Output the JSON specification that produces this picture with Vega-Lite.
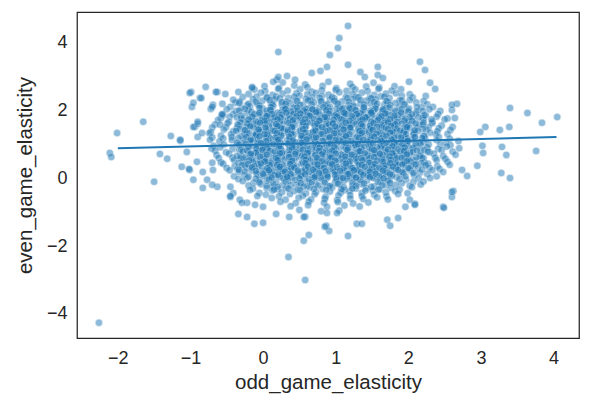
{
  "$schema": "https://vega.github.io/schema/vega-lite/v6.json",
  "autosize": "none",
  "width": 502,
  "height": 326,
  "padding": {"left": 77, "top": 12, "right": 19, "bottom": 68},
  "background": "#ffffff",
  "config": {
    "view": {"stroke": "#262626", "strokeWidth": 1.25},
    "font": "Liberation Sans",
    "axis": {
      "grid": false,
      "domain": false,
      "ticks": false,
      "tickSize": 0,
      "format": "d",
      "labelFont": "Liberation Sans",
      "labelFontSize": 18,
      "labelColor": "#262626",
      "titleFont": "Liberation Sans",
      "titleFontSize": 20.5,
      "titleFontWeight": "normal",
      "titleColor": "#262626"
    }
  },
  "datasets": {
    "fit": [
      {"odd": -2.0, "even": 0.89},
      {"odd": 4.04, "even": 1.22}
    ],
    "points": [
      {"odd":0.27,"even":2.83},{"odd":0.58,"even":2.77},{"odd":0.9,"even":2.85},{"odd":1.2,"even":2.79},{"odd":1.52,"even":2.82},
      {"odd":0.02,"even":2.72},{"odd":0.22,"even":2.67},{"odd":0.43,"even":2.74},{"odd":0.61,"even":2.69},{"odd":0.82,"even":2.73},{"odd":1.01,"even":2.66},{"odd":1.23,"even":2.7},{"odd":1.42,"even":2.71},{"odd":1.6,"even":2.68},{"odd":1.81,"even":2.72},
      {"odd":-0.12,"even":2.62},{"odd":0.03,"even":2.57},{"odd":0.21,"even":2.64},{"odd":0.34,"even":2.59},{"odd":0.51,"even":2.63},{"odd":0.67,"even":2.56},{"odd":0.81,"even":2.6},{"odd":1.0,"even":2.61},{"odd":1.15,"even":2.58},{"odd":1.27,"even":2.62},{"odd":1.44,"even":2.57},{"odd":1.59,"even":2.64},{"odd":1.77,"even":2.59},{"odd":1.9,"even":2.63},
      {"odd":-0.2,"even":2.49},{"odd":-0.03,"even":2.53},{"odd":0.13,"even":2.46},{"odd":0.27,"even":2.5},{"odd":0.46,"even":2.51},{"odd":0.61,"even":2.48},{"odd":0.73,"even":2.52},{"odd":0.9,"even":2.47},{"odd":1.05,"even":2.54},{"odd":1.23,"even":2.49},{"odd":1.36,"even":2.53},{"odd":1.53,"even":2.46},{"odd":1.69,"even":2.5},{"odd":1.83,"even":2.51},{"odd":2.02,"even":2.48},
      {"odd":-0.28,"even":2.4},{"odd":-0.09,"even":2.41},{"odd":0.06,"even":2.38},{"odd":0.18,"even":2.42},{"odd":0.35,"even":2.37},{"odd":0.5,"even":2.44},{"odd":0.68,"even":2.39},{"odd":0.81,"even":2.43},{"odd":0.98,"even":2.36},{"odd":1.14,"even":2.4},{"odd":1.28,"even":2.41},{"odd":1.47,"even":2.38},{"odd":1.62,"even":2.42},{"odd":1.74,"even":2.37},{"odd":1.91,"even":2.44},{"odd":2.06,"even":2.39},{"odd":2.24,"even":2.43},
      {"odd":-0.32,"even":2.27},{"odd":-0.14,"even":2.34},{"odd":-0.01,"even":2.29},{"odd":0.16,"even":2.33},{"odd":0.32,"even":2.26},{"odd":0.46,"even":2.3},{"odd":0.65,"even":2.31},{"odd":0.8,"even":2.28},{"odd":0.92,"even":2.32},{"odd":1.09,"even":2.27},{"odd":1.24,"even":2.34},{"odd":1.42,"even":2.29},{"odd":1.55,"even":2.33},{"odd":1.72,"even":2.26},{"odd":1.88,"even":2.3},{"odd":2.02,"even":2.31},{"odd":2.21,"even":2.28},
      {"odd":-0.38,"even":2.23},{"odd":-0.22,"even":2.16},{"odd":-0.08,"even":2.2},{"odd":0.11,"even":2.21},{"odd":0.26,"even":2.18},{"odd":0.38,"even":2.22},{"odd":0.55,"even":2.17},{"odd":0.7,"even":2.24},{"odd":0.88,"even":2.19},{"odd":1.01,"even":2.23},{"odd":1.18,"even":2.16},{"odd":1.34,"even":2.2},{"odd":1.48,"even":2.21},{"odd":1.67,"even":2.18},{"odd":1.82,"even":2.22},{"odd":1.94,"even":2.17},{"odd":2.11,"even":2.24},{"odd":2.26,"even":2.19},
      {"odd":-0.45,"even":2.11},{"odd":-0.3,"even":2.08},{"odd":-0.18,"even":2.12},{"odd":-0.01,"even":2.07},{"odd":0.14,"even":2.14},{"odd":0.32,"even":2.09},{"odd":0.45,"even":2.13},{"odd":0.62,"even":2.06},{"odd":0.78,"even":2.1},{"odd":0.92,"even":2.11},{"odd":1.11,"even":2.08},{"odd":1.26,"even":2.12},{"odd":1.38,"even":2.07},{"odd":1.55,"even":2.14},{"odd":1.7,"even":2.09},{"odd":1.88,"even":2.13},{"odd":2.01,"even":2.06},{"odd":2.18,"even":2.1},{"odd":2.34,"even":2.11},
      {"odd":-0.5,"even":2.04},{"odd":-0.37,"even":1.99},{"odd":-0.2,"even":2.03},{"odd":-0.04,"even":1.96},{"odd":0.1,"even":2.0},{"odd":0.29,"even":2.01},{"odd":0.44,"even":1.98},{"odd":0.56,"even":2.02},{"odd":0.73,"even":1.97},{"odd":0.88,"even":2.04},{"odd":1.06,"even":1.99},{"odd":1.19,"even":2.03},{"odd":1.36,"even":1.96},{"odd":1.52,"even":2.0},{"odd":1.66,"even":2.01},{"odd":1.85,"even":1.98},{"odd":2.0,"even":2.02},{"odd":2.12,"even":1.97},{"odd":2.29,"even":2.04},{"odd":2.44,"even":1.99},
      {"odd":-0.55,"even":1.86},{"odd":-0.41,"even":1.9},{"odd":-0.22,"even":1.91},{"odd":-0.07,"even":1.88},{"odd":0.05,"even":1.92},{"odd":0.22,"even":1.87},{"odd":0.37,"even":1.94},{"odd":0.55,"even":1.89},{"odd":0.68,"even":1.93},{"odd":0.85,"even":1.86},{"odd":1.01,"even":1.9},{"odd":1.15,"even":1.91},{"odd":1.34,"even":1.88},{"odd":1.49,"even":1.92},{"odd":1.61,"even":1.87},{"odd":1.78,"even":1.94},{"odd":1.93,"even":1.89},{"odd":2.11,"even":1.93},{"odd":2.24,"even":1.86},{"odd":2.41,"even":1.9},
      {"odd":-0.58,"even":1.78},{"odd":-0.46,"even":1.82},{"odd":-0.29,"even":1.77},{"odd":-0.14,"even":1.84},{"odd":0.04,"even":1.79},{"odd":0.17,"even":1.83},{"odd":0.34,"even":1.76},{"odd":0.5,"even":1.8},{"odd":0.64,"even":1.81},{"odd":0.83,"even":1.78},{"odd":0.98,"even":1.82},{"odd":1.1,"even":1.77},{"odd":1.27,"even":1.84},{"odd":1.42,"even":1.79},{"odd":1.6,"even":1.83},{"odd":1.73,"even":1.76},{"odd":1.9,"even":1.8},{"odd":2.06,"even":1.81},{"odd":2.2,"even":1.78},{"odd":2.39,"even":1.82},{"odd":2.54,"even":1.77},
      {"odd":-0.62,"even":1.72},{"odd":-0.47,"even":1.67},{"odd":-0.29,"even":1.74},{"odd":-0.16,"even":1.69},{"odd":0.01,"even":1.73},{"odd":0.17,"even":1.66},{"odd":0.31,"even":1.7},{"odd":0.5,"even":1.71},{"odd":0.65,"even":1.68},{"odd":0.77,"even":1.72},{"odd":0.94,"even":1.67},{"odd":1.09,"even":1.74},{"odd":1.27,"even":1.69},{"odd":1.4,"even":1.73},{"odd":1.57,"even":1.66},{"odd":1.73,"even":1.7},{"odd":1.87,"even":1.71},{"odd":2.06,"even":1.68},{"odd":2.21,"even":1.72},{"odd":2.33,"even":1.67},{"odd":2.5,"even":1.74},
      {"odd":-0.66,"even":1.59},{"odd":-0.49,"even":1.63},{"odd":-0.33,"even":1.56},{"odd":-0.19,"even":1.6},{"odd":0.0,"even":1.61},{"odd":0.15,"even":1.58},{"odd":0.27,"even":1.62},{"odd":0.44,"even":1.57},{"odd":0.59,"even":1.64},{"odd":0.77,"even":1.59},{"odd":0.9,"even":1.63},{"odd":1.07,"even":1.56},{"odd":1.23,"even":1.6},{"odd":1.37,"even":1.61},{"odd":1.56,"even":1.58},{"odd":1.71,"even":1.62},{"odd":1.83,"even":1.57},{"odd":2.0,"even":1.64},{"odd":2.15,"even":1.59},{"odd":2.33,"even":1.63},{"odd":2.46,"even":1.56},
      {"odd":-0.7,"even":1.5},{"odd":-0.51,"even":1.51},{"odd":-0.36,"even":1.48},{"odd":-0.24,"even":1.52},{"odd":-0.07,"even":1.47},{"odd":0.08,"even":1.54},{"odd":0.26,"even":1.49},{"odd":0.39,"even":1.53},{"odd":0.56,"even":1.46},{"odd":0.72,"even":1.5},{"odd":0.86,"even":1.51},{"odd":1.05,"even":1.48},{"odd":1.2,"even":1.52},{"odd":1.32,"even":1.47},{"odd":1.49,"even":1.54},{"odd":1.64,"even":1.49},{"odd":1.82,"even":1.53},{"odd":1.95,"even":1.46},{"odd":2.12,"even":1.5},{"odd":2.28,"even":1.51},{"odd":2.42,"even":1.48},{"odd":2.61,"even":1.52},
      {"odd":-0.72,"even":1.37},{"odd":-0.54,"even":1.44},{"odd":-0.41,"even":1.39},{"odd":-0.24,"even":1.43},{"odd":-0.08,"even":1.36},{"odd":0.06,"even":1.4},{"odd":0.25,"even":1.41},{"odd":0.4,"even":1.38},{"odd":0.52,"even":1.42},{"odd":0.69,"even":1.37},{"odd":0.84,"even":1.44},{"odd":1.02,"even":1.39},{"odd":1.15,"even":1.43},{"odd":1.32,"even":1.36},{"odd":1.48,"even":1.4},{"odd":1.62,"even":1.41},{"odd":1.81,"even":1.38},{"odd":1.96,"even":1.42},{"odd":2.08,"even":1.37},{"odd":2.25,"even":1.44},{"odd":2.4,"even":1.39},{"odd":2.58,"even":1.43},
      {"odd":-0.74,"even":1.33},{"odd":-0.58,"even":1.26},{"odd":-0.44,"even":1.3},{"odd":-0.25,"even":1.31},{"odd":-0.1,"even":1.28},{"odd":0.02,"even":1.32},{"odd":0.19,"even":1.27},{"odd":0.34,"even":1.34},{"odd":0.52,"even":1.29},{"odd":0.65,"even":1.33},{"odd":0.82,"even":1.26},{"odd":0.98,"even":1.3},{"odd":1.12,"even":1.31},{"odd":1.31,"even":1.28},{"odd":1.46,"even":1.32},{"odd":1.58,"even":1.27},{"odd":1.75,"even":1.34},{"odd":1.9,"even":1.29},{"odd":2.08,"even":1.33},{"odd":2.21,"even":1.26},{"odd":2.38,"even":1.3},{"odd":2.54,"even":1.31},
      {"odd":-0.7,"even":1.21},{"odd":-0.55,"even":1.18},{"odd":-0.43,"even":1.22},{"odd":-0.26,"even":1.17},{"odd":-0.11,"even":1.24},{"odd":0.07,"even":1.19},{"odd":0.2,"even":1.23},{"odd":0.37,"even":1.16},{"odd":0.53,"even":1.2},{"odd":0.67,"even":1.21},{"odd":0.86,"even":1.18},{"odd":1.01,"even":1.22},{"odd":1.13,"even":1.17},{"odd":1.3,"even":1.24},{"odd":1.45,"even":1.19},{"odd":1.63,"even":1.23},{"odd":1.76,"even":1.16},{"odd":1.93,"even":1.2},{"odd":2.09,"even":1.21},{"odd":2.23,"even":1.18},{"odd":2.42,"even":1.22},{"odd":2.57,"even":1.17},
      {"odd":-0.73,"even":1.14},{"odd":-0.6,"even":1.09},{"odd":-0.43,"even":1.13},{"odd":-0.27,"even":1.06},{"odd":-0.13,"even":1.1},{"odd":0.06,"even":1.11},{"odd":0.21,"even":1.08},{"odd":0.33,"even":1.12},{"odd":0.5,"even":1.07},{"odd":0.65,"even":1.14},{"odd":0.83,"even":1.09},{"odd":0.96,"even":1.13},{"odd":1.13,"even":1.06},{"odd":1.29,"even":1.1},{"odd":1.43,"even":1.11},{"odd":1.62,"even":1.08},{"odd":1.77,"even":1.12},{"odd":1.89,"even":1.07},{"odd":2.06,"even":1.14},{"odd":2.21,"even":1.09},{"odd":2.39,"even":1.13},{"odd":2.52,"even":1.06},{"odd":2.69,"even":1.1},
      {"odd":-0.68,"even":0.96},{"odd":-0.54,"even":1.0},{"odd":-0.35,"even":1.01},{"odd":-0.2,"even":0.98},{"odd":-0.08,"even":1.02},{"odd":0.09,"even":0.97},{"odd":0.24,"even":1.04},{"odd":0.42,"even":0.99},{"odd":0.55,"even":1.03},{"odd":0.72,"even":0.96},{"odd":0.88,"even":1.0},{"odd":1.02,"even":1.01},{"odd":1.21,"even":0.98},{"odd":1.36,"even":1.02},{"odd":1.48,"even":0.97},{"odd":1.65,"even":1.04},{"odd":1.8,"even":0.99},{"odd":1.98,"even":1.03},{"odd":2.11,"even":0.96},{"odd":2.28,"even":1.0},{"odd":2.44,"even":1.01},{"odd":2.58,"even":0.98},
      {"odd":-0.71,"even":0.88},{"odd":-0.59,"even":0.92},{"odd":-0.42,"even":0.87},{"odd":-0.27,"even":0.94},{"odd":-0.09,"even":0.89},{"odd":0.04,"even":0.93},{"odd":0.21,"even":0.86},{"odd":0.37,"even":0.9},{"odd":0.51,"even":0.91},{"odd":0.7,"even":0.88},{"odd":0.85,"even":0.92},{"odd":0.97,"even":0.87},{"odd":1.14,"even":0.94},{"odd":1.29,"even":0.89},{"odd":1.47,"even":0.93},{"odd":1.6,"even":0.86},{"odd":1.77,"even":0.9},{"odd":1.93,"even":0.91},{"odd":2.07,"even":0.88},{"odd":2.26,"even":0.92},{"odd":2.41,"even":0.87},{"odd":2.53,"even":0.94},{"odd":2.7,"even":0.89},
      {"odd":-0.66,"even":0.82},{"odd":-0.51,"even":0.77},{"odd":-0.33,"even":0.84},{"odd":-0.2,"even":0.79},{"odd":-0.03,"even":0.83},{"odd":0.13,"even":0.76},{"odd":0.27,"even":0.8},{"odd":0.46,"even":0.81},{"odd":0.61,"even":0.78},{"odd":0.73,"even":0.82},{"odd":0.9,"even":0.77},{"odd":1.05,"even":0.84},{"odd":1.23,"even":0.79},{"odd":1.36,"even":0.83},{"odd":1.53,"even":0.76},{"odd":1.69,"even":0.8},{"odd":1.83,"even":0.81},{"odd":2.02,"even":0.78},{"odd":2.17,"even":0.82},{"odd":2.29,"even":0.77},{"odd":2.46,"even":0.84},{"odd":2.61,"even":0.79},
      {"odd":-0.64,"even":0.69},{"odd":-0.47,"even":0.73},{"odd":-0.31,"even":0.66},{"odd":-0.17,"even":0.7},{"odd":0.02,"even":0.71},{"odd":0.17,"even":0.68},{"odd":0.29,"even":0.72},{"odd":0.46,"even":0.67},{"odd":0.61,"even":0.74},{"odd":0.79,"even":0.69},{"odd":0.92,"even":0.73},{"odd":1.09,"even":0.66},{"odd":1.25,"even":0.7},{"odd":1.39,"even":0.71},{"odd":1.58,"even":0.68},{"odd":1.73,"even":0.72},{"odd":1.85,"even":0.67},{"odd":2.02,"even":0.74},{"odd":2.17,"even":0.69},{"odd":2.35,"even":0.73},{"odd":2.48,"even":0.66},{"odd":2.65,"even":0.7},
      {"odd":-0.61,"even":0.6},{"odd":-0.42,"even":0.61},{"odd":-0.27,"even":0.58},{"odd":-0.15,"even":0.62},{"odd":0.02,"even":0.57},{"odd":0.17,"even":0.64},{"odd":0.35,"even":0.59},{"odd":0.48,"even":0.63},{"odd":0.65,"even":0.56},{"odd":0.81,"even":0.6},{"odd":0.95,"even":0.61},{"odd":1.14,"even":0.58},{"odd":1.29,"even":0.62},{"odd":1.41,"even":0.57},{"odd":1.58,"even":0.64},{"odd":1.73,"even":0.59},{"odd":1.91,"even":0.63},{"odd":2.04,"even":0.56},{"odd":2.21,"even":0.6},{"odd":2.37,"even":0.61},{"odd":2.51,"even":0.58},
      {"odd":-0.58,"even":0.47},{"odd":-0.4,"even":0.54},{"odd":-0.27,"even":0.49},{"odd":-0.1,"even":0.53},{"odd":0.06,"even":0.46},{"odd":0.2,"even":0.5},{"odd":0.39,"even":0.51},{"odd":0.54,"even":0.48},{"odd":0.66,"even":0.52},{"odd":0.83,"even":0.47},{"odd":0.98,"even":0.54},{"odd":1.16,"even":0.49},{"odd":1.29,"even":0.53},{"odd":1.46,"even":0.46},{"odd":1.62,"even":0.5},{"odd":1.76,"even":0.51},{"odd":1.95,"even":0.48},{"odd":2.1,"even":0.52},{"odd":2.22,"even":0.47},{"odd":2.39,"even":0.54},{"odd":2.54,"even":0.49},
      {"odd":-0.55,"even":0.43},{"odd":-0.39,"even":0.36},{"odd":-0.25,"even":0.4},{"odd":-0.06,"even":0.41},{"odd":0.09,"even":0.38},{"odd":0.21,"even":0.42},{"odd":0.38,"even":0.37},{"odd":0.53,"even":0.44},{"odd":0.71,"even":0.39},{"odd":0.84,"even":0.43},{"odd":1.01,"even":0.36},{"odd":1.17,"even":0.4},{"odd":1.31,"even":0.41},{"odd":1.5,"even":0.38},{"odd":1.65,"even":0.42},{"odd":1.77,"even":0.37},{"odd":1.94,"even":0.44},{"odd":2.09,"even":0.39},{"odd":2.27,"even":0.43},{"odd":2.4,"even":0.36},{"odd":2.57,"even":0.4},
      {"odd":-0.5,"even":0.31},{"odd":-0.35,"even":0.28},{"odd":-0.23,"even":0.32},{"odd":-0.06,"even":0.27},{"odd":0.09,"even":0.34},{"odd":0.27,"even":0.29},{"odd":0.4,"even":0.33},{"odd":0.57,"even":0.26},{"odd":0.73,"even":0.3},{"odd":0.87,"even":0.31},{"odd":1.06,"even":0.28},{"odd":1.21,"even":0.32},{"odd":1.33,"even":0.27},{"odd":1.5,"even":0.34},{"odd":1.65,"even":0.29},{"odd":1.83,"even":0.33},{"odd":1.96,"even":0.26},{"odd":2.13,"even":0.3},{"odd":2.29,"even":0.31},{"odd":2.43,"even":0.28},
      {"odd":-0.46,"even":0.24},{"odd":-0.33,"even":0.19},{"odd":-0.16,"even":0.23},{"odd":0.0,"even":0.16},{"odd":0.14,"even":0.2},{"odd":0.33,"even":0.21},{"odd":0.48,"even":0.18},{"odd":0.6,"even":0.22},{"odd":0.77,"even":0.17},{"odd":0.92,"even":0.24},{"odd":1.1,"even":0.19},{"odd":1.23,"even":0.23},{"odd":1.4,"even":0.16},{"odd":1.56,"even":0.2},{"odd":1.7,"even":0.21},{"odd":1.89,"even":0.18},{"odd":2.04,"even":0.22},{"odd":2.16,"even":0.17},{"odd":2.33,"even":0.24},{"odd":2.48,"even":0.19},
      {"odd":-0.4,"even":0.06},{"odd":-0.26,"even":0.1},{"odd":-0.07,"even":0.11},{"odd":0.08,"even":0.08},{"odd":0.2,"even":0.12},{"odd":0.37,"even":0.07},{"odd":0.52,"even":0.14},{"odd":0.7,"even":0.09},{"odd":0.83,"even":0.13},{"odd":1.0,"even":0.06},{"odd":1.16,"even":0.1},{"odd":1.3,"even":0.11},{"odd":1.49,"even":0.08},{"odd":1.64,"even":0.12},{"odd":1.76,"even":0.07},{"odd":1.93,"even":0.14},{"odd":2.08,"even":0.09},{"odd":2.26,"even":0.13},{"odd":2.39,"even":0.06},
      {"odd":-0.34,"even":-0.02},{"odd":-0.22,"even":0.02},{"odd":-0.05,"even":-0.03},{"odd":0.1,"even":0.04},{"odd":0.28,"even":-0.01},{"odd":0.41,"even":0.03},{"odd":0.58,"even":-0.04},{"odd":0.74,"even":0.0},{"odd":0.88,"even":0.01},{"odd":1.07,"even":-0.02},{"odd":1.22,"even":0.02},{"odd":1.34,"even":-0.03},{"odd":1.51,"even":0.04},{"odd":1.66,"even":-0.01},{"odd":1.84,"even":0.03},{"odd":1.97,"even":-0.04},{"odd":2.14,"even":0.0},{"odd":2.3,"even":0.01},
      {"odd":-0.28,"even":-0.08},{"odd":-0.13,"even":-0.13},{"odd":0.05,"even":-0.06},{"odd":0.18,"even":-0.11},{"odd":0.35,"even":-0.07},{"odd":0.51,"even":-0.14},{"odd":0.65,"even":-0.1},{"odd":0.84,"even":-0.09},{"odd":0.99,"even":-0.12},{"odd":1.11,"even":-0.08},{"odd":1.28,"even":-0.13},{"odd":1.43,"even":-0.06},{"odd":1.61,"even":-0.11},{"odd":1.74,"even":-0.07},{"odd":1.91,"even":-0.14},{"odd":2.07,"even":-0.1},{"odd":2.21,"even":-0.09},
      {"odd":-0.2,"even":-0.21},{"odd":-0.03,"even":-0.17},{"odd":0.13,"even":-0.24},{"odd":0.27,"even":-0.2},{"odd":0.46,"even":-0.19},{"odd":0.61,"even":-0.22},{"odd":0.73,"even":-0.18},{"odd":0.9,"even":-0.23},{"odd":1.05,"even":-0.16},{"odd":1.23,"even":-0.21},{"odd":1.36,"even":-0.17},{"odd":1.53,"even":-0.24},{"odd":1.69,"even":-0.2},{"odd":1.83,"even":-0.19},{"odd":2.02,"even":-0.22},{"odd":2.17,"even":-0.18},
      {"odd":-0.14,"even":-0.3},{"odd":0.05,"even":-0.29},{"odd":0.2,"even":-0.32},{"odd":0.32,"even":-0.28},{"odd":0.49,"even":-0.33},{"odd":0.64,"even":-0.26},{"odd":0.82,"even":-0.31},{"odd":0.95,"even":-0.27},{"odd":1.12,"even":-0.34},{"odd":1.28,"even":-0.3},{"odd":1.42,"even":-0.29},{"odd":1.61,"even":-0.32},{"odd":1.76,"even":-0.28},{"odd":1.88,"even":-0.33},{"odd":2.05,"even":-0.26},
      {"odd":-0.05,"even":-0.43},{"odd":0.13,"even":-0.36},{"odd":0.26,"even":-0.41},{"odd":0.43,"even":-0.37},{"odd":0.59,"even":-0.44},{"odd":0.73,"even":-0.4},{"odd":0.92,"even":-0.39},{"odd":1.07,"even":-0.42},{"odd":1.19,"even":-0.38},{"odd":1.36,"even":-0.43},{"odd":1.51,"even":-0.36},{"odd":1.69,"even":-0.41},{"odd":1.82,"even":-0.37},{"odd":1.99,"even":-0.44},
      {"odd":0.04,"even":-0.48},{"odd":0.22,"even":-0.53},{"odd":0.37,"even":-0.46},{"odd":0.55,"even":-0.51},{"odd":0.71,"even":-0.47},{"odd":0.86,"even":-0.54},{"odd":1.04,"even":-0.5},{"odd":1.2,"even":-0.49},{"odd":1.36,"even":-0.52},{"odd":1.53,"even":-0.48},{"odd":1.7,"even":-0.53},{"odd":1.86,"even":-0.46},
      {"odd":0.12,"even":-0.58},{"odd":0.31,"even":-0.63},{"odd":0.49,"even":-0.57},{"odd":0.66,"even":-0.62},{"odd":0.85,"even":-0.6},{"odd":1.02,"even":-0.64},{"odd":1.2,"even":-0.59},{"odd":1.38,"even":-0.61},{"odd":1.57,"even":-0.56},{"odd":1.72,"even":-0.62},
      {"odd":0.24,"even":-0.69},{"odd":0.45,"even":-0.73},{"odd":0.63,"even":-0.68},{"odd":0.84,"even":-0.72},{"odd":1.03,"even":-0.7},{"odd":1.24,"even":-0.74},{"odd":1.45,"even":-0.71},
      {"odd":0.38,"even":-0.82},{"odd":0.62,"even":-0.79},{"odd":0.88,"even":-0.84},{"odd":1.12,"even":-0.8},{"odd":1.33,"even":-0.83},
      {"odd":0.5,"even":-0.93},{"odd":0.8,"even":-0.97},{"odd":1.05,"even":-0.95},
      {"odd":0.27,"even":2.03},{"odd":0.42,"even":2.08},{"odd":0.6,"even":2.05},{"odd":0.73,"even":2.01},{"odd":0.9,"even":2.07},{"odd":1.06,"even":2.09},{"odd":1.2,"even":2.04},{"odd":1.39,"even":2.02},{"odd":1.54,"even":2.06},
      {"odd":0.12,"even":1.98},{"odd":0.26,"even":1.95},{"odd":0.45,"even":1.91},{"odd":0.6,"even":1.97},{"odd":0.72,"even":1.99},{"odd":0.89,"even":1.94},{"odd":1.04,"even":1.92},{"odd":1.22,"even":1.96},{"odd":1.35,"even":1.93},{"odd":1.52,"even":1.98},{"odd":1.68,"even":1.95},
      {"odd":0.06,"even":1.85},{"odd":0.19,"even":1.81},{"odd":0.36,"even":1.87},{"odd":0.52,"even":1.89},{"odd":0.66,"even":1.84},{"odd":0.85,"even":1.82},{"odd":1.0,"even":1.86},{"odd":1.12,"even":1.83},{"odd":1.29,"even":1.88},{"odd":1.44,"even":1.85},{"odd":1.62,"even":1.81},{"odd":1.75,"even":1.87},
      {"odd":-0.02,"even":1.71},{"odd":0.13,"even":1.77},{"odd":0.25,"even":1.79},{"odd":0.42,"even":1.74},{"odd":0.57,"even":1.72},{"odd":0.75,"even":1.76},{"odd":0.88,"even":1.73},{"odd":1.05,"even":1.78},{"odd":1.21,"even":1.75},{"odd":1.35,"even":1.71},{"odd":1.54,"even":1.77},{"odd":1.69,"even":1.79},{"odd":1.81,"even":1.74},
      {"odd":-0.07,"even":1.67},{"odd":0.09,"even":1.69},{"odd":0.23,"even":1.64},{"odd":0.42,"even":1.62},{"odd":0.57,"even":1.66},{"odd":0.69,"even":1.63},{"odd":0.86,"even":1.68},{"odd":1.01,"even":1.65},{"odd":1.19,"even":1.61},{"odd":1.32,"even":1.67},{"odd":1.49,"even":1.69},{"odd":1.65,"even":1.64},{"odd":1.79,"even":1.62},{"odd":1.98,"even":1.66},
      {"odd":-0.09,"even":1.59},{"odd":0.08,"even":1.54},{"odd":0.23,"even":1.52},{"odd":0.41,"even":1.56},{"odd":0.54,"even":1.53},{"odd":0.71,"even":1.58},{"odd":0.87,"even":1.55},{"odd":1.01,"even":1.51},{"odd":1.2,"even":1.57},{"odd":1.35,"even":1.59},{"odd":1.47,"even":1.54},{"odd":1.64,"even":1.52},{"odd":1.79,"even":1.56},{"odd":1.97,"even":1.53},
      {"odd":-0.06,"even":1.44},{"odd":0.13,"even":1.42},{"odd":0.28,"even":1.46},{"odd":0.4,"even":1.43},{"odd":0.57,"even":1.48},{"odd":0.72,"even":1.45},{"odd":0.9,"even":1.41},{"odd":1.03,"even":1.47},{"odd":1.2,"even":1.49},{"odd":1.36,"even":1.44},{"odd":1.5,"even":1.42},{"odd":1.69,"even":1.46},{"odd":1.84,"even":1.43},{"odd":1.96,"even":1.48},
      {"odd":-0.1,"even":1.32},{"odd":0.07,"even":1.36},{"odd":0.23,"even":1.33},{"odd":0.37,"even":1.38},{"odd":0.56,"even":1.35},{"odd":0.71,"even":1.31},{"odd":0.83,"even":1.37},{"odd":1.0,"even":1.39},{"odd":1.15,"even":1.34},{"odd":1.33,"even":1.32},{"odd":1.46,"even":1.36},{"odd":1.63,"even":1.33},{"odd":1.79,"even":1.38},{"odd":1.93,"even":1.35},
      {"odd":-0.04,"even":1.26},{"odd":0.08,"even":1.23},{"odd":0.25,"even":1.28},{"odd":0.4,"even":1.25},{"odd":0.58,"even":1.21},{"odd":0.71,"even":1.27},{"odd":0.88,"even":1.29},{"odd":1.04,"even":1.24},{"odd":1.18,"even":1.22},{"odd":1.37,"even":1.26},{"odd":1.52,"even":1.23},{"odd":1.64,"even":1.28},{"odd":1.81,"even":1.25},{"odd":1.96,"even":1.21},
      {"odd":-0.08,"even":1.13},{"odd":0.1,"even":1.18},{"odd":0.23,"even":1.15},{"odd":0.4,"even":1.11},{"odd":0.56,"even":1.17},{"odd":0.7,"even":1.19},{"odd":0.89,"even":1.14},{"odd":1.04,"even":1.12},{"odd":1.16,"even":1.16},{"odd":1.33,"even":1.13},{"odd":1.48,"even":1.18},{"odd":1.66,"even":1.15},{"odd":1.79,"even":1.11},{"odd":1.96,"even":1.17},
      {"odd":-0.05,"even":1.08},{"odd":0.11,"even":1.05},{"odd":0.25,"even":1.01},{"odd":0.44,"even":1.07},{"odd":0.59,"even":1.09},{"odd":0.71,"even":1.04},{"odd":0.88,"even":1.02},{"odd":1.03,"even":1.06},{"odd":1.21,"even":1.03},{"odd":1.34,"even":1.08},{"odd":1.51,"even":1.05},{"odd":1.67,"even":1.01},{"odd":1.81,"even":1.07},{"odd":2.0,"even":1.09},
      {"odd":-0.09,"even":0.95},{"odd":0.06,"even":0.91},{"odd":0.18,"even":0.97},{"odd":0.35,"even":0.99},{"odd":0.5,"even":0.94},{"odd":0.68,"even":0.92},{"odd":0.81,"even":0.96},{"odd":0.98,"even":0.93},{"odd":1.14,"even":0.98},{"odd":1.28,"even":0.95},{"odd":1.47,"even":0.91},{"odd":1.62,"even":0.97},{"odd":1.74,"even":0.99},{"odd":1.91,"even":0.94},
      {"odd":-0.06,"even":0.81},{"odd":0.07,"even":0.87},{"odd":0.24,"even":0.89},{"odd":0.4,"even":0.84},{"odd":0.54,"even":0.82},{"odd":0.73,"even":0.86},{"odd":0.88,"even":0.83},{"odd":1.0,"even":0.88},{"odd":1.17,"even":0.85},{"odd":1.32,"even":0.81},{"odd":1.5,"even":0.87},{"odd":1.63,"even":0.89},{"odd":1.8,"even":0.84},{"odd":1.96,"even":0.82},
      {"odd":-0.1,"even":0.77},{"odd":0.04,"even":0.79},{"odd":0.23,"even":0.74},{"odd":0.38,"even":0.72},{"odd":0.5,"even":0.76},{"odd":0.67,"even":0.73},{"odd":0.82,"even":0.78},{"odd":1.0,"even":0.75},{"odd":1.13,"even":0.71},{"odd":1.3,"even":0.77},{"odd":1.46,"even":0.79},{"odd":1.6,"even":0.74},{"odd":1.79,"even":0.72},{"odd":1.94,"even":0.76},
      {"odd":-0.07,"even":0.69},{"odd":0.08,"even":0.64},{"odd":0.26,"even":0.62},{"odd":0.39,"even":0.66},{"odd":0.56,"even":0.63},{"odd":0.72,"even":0.68},{"odd":0.86,"even":0.65},{"odd":1.05,"even":0.61},{"odd":1.2,"even":0.67},{"odd":1.32,"even":0.69},{"odd":1.49,"even":0.64},{"odd":1.64,"even":0.62},{"odd":1.82,"even":0.66},{"odd":1.95,"even":0.63},
      {"odd":-0.04,"even":0.54},{"odd":0.13,"even":0.52},{"odd":0.29,"even":0.56},{"odd":0.43,"even":0.53},{"odd":0.62,"even":0.58},{"odd":0.77,"even":0.55},{"odd":0.89,"even":0.51},{"odd":1.06,"even":0.57},{"odd":1.21,"even":0.59},{"odd":1.39,"even":0.54},{"odd":1.52,"even":0.52},{"odd":1.69,"even":0.56},{"odd":1.85,"even":0.53},
      {"odd":-0.08,"even":0.42},{"odd":0.11,"even":0.46},{"odd":0.26,"even":0.43},{"odd":0.38,"even":0.48},{"odd":0.55,"even":0.45},{"odd":0.7,"even":0.41},{"odd":0.88,"even":0.47},{"odd":1.01,"even":0.49},{"odd":1.18,"even":0.44},{"odd":1.34,"even":0.42},{"odd":1.48,"even":0.46},{"odd":1.67,"even":0.43},{"odd":1.82,"even":0.48},{"odd":1.94,"even":0.45},
      {"odd":-0.02,"even":0.36},{"odd":0.16,"even":0.33},{"odd":0.29,"even":0.38},{"odd":0.46,"even":0.35},{"odd":0.62,"even":0.31},{"odd":0.76,"even":0.37},{"odd":0.95,"even":0.39},{"odd":1.1,"even":0.34},{"odd":1.22,"even":0.32},{"odd":1.39,"even":0.36},{"odd":1.54,"even":0.33},{"odd":1.72,"even":0.38},{"odd":1.85,"even":0.35},
      {"odd":0.05,"even":0.23},{"odd":0.21,"even":0.28},{"odd":0.35,"even":0.25},{"odd":0.54,"even":0.21},{"odd":0.69,"even":0.27},{"odd":0.81,"even":0.29},{"odd":0.98,"even":0.24},{"odd":1.13,"even":0.22},{"odd":1.31,"even":0.26},{"odd":1.44,"even":0.23},{"odd":1.61,"even":0.28},{"odd":1.77,"even":0.25},
      {"odd":0.12,"even":0.18},{"odd":0.27,"even":0.15},{"odd":0.39,"even":0.11},{"odd":0.56,"even":0.17},{"odd":0.71,"even":0.19},{"odd":0.89,"even":0.14},{"odd":1.02,"even":0.12},{"odd":1.19,"even":0.16},{"odd":1.35,"even":0.13},{"odd":1.49,"even":0.18},{"odd":1.68,"even":0.15},
      {"odd":0.22,"even":0.05},{"odd":0.35,"even":0.01},{"odd":0.52,"even":0.07},{"odd":0.68,"even":0.09},{"odd":0.82,"even":0.04},{"odd":1.01,"even":0.02},{"odd":1.16,"even":0.06},{"odd":1.28,"even":0.03},{"odd":1.45,"even":0.08},{"odd":1.6,"even":0.05},
      {"odd":0.05,"even":2.39},{"odd":0.23,"even":2.36},{"odd":0.43,"even":2.41},{"odd":0.59,"even":2.35},{"odd":0.78,"even":2.38},{"odd":0.95,"even":2.4},{"odd":1.16,"even":2.37},{"odd":1.31,"even":2.39},{"odd":1.49,"even":2.36},{"odd":1.67,"even":2.41},
      {"odd":-0.1,"even":2.26},{"odd":0.09,"even":2.31},{"odd":0.26,"even":2.25},{"odd":0.47,"even":2.28},{"odd":0.62,"even":2.3},{"odd":0.8,"even":2.27},{"odd":0.98,"even":2.29},{"odd":1.18,"even":2.26},{"odd":1.34,"even":2.31},{"odd":1.53,"even":2.25},{"odd":1.7,"even":2.28},{"odd":1.91,"even":2.3},
      {"odd":-0.2,"even":2.2},{"odd":-0.05,"even":2.15},{"odd":0.13,"even":2.18},{"odd":0.31,"even":2.2},{"odd":0.51,"even":2.17},{"odd":0.67,"even":2.19},{"odd":0.86,"even":2.16},{"odd":1.03,"even":2.2},{"odd":1.24,"even":2.15},{"odd":1.39,"even":2.18},{"odd":1.57,"even":2.2},{"odd":1.75,"even":2.17},{"odd":1.95,"even":2.19},
      {"odd":-0.25,"even":2.05},{"odd":-0.05,"even":2.08},{"odd":0.11,"even":2.1},{"odd":0.3,"even":2.06},{"odd":0.47,"even":2.09},{"odd":0.68,"even":2.04},{"odd":0.83,"even":2.1},{"odd":1.01,"even":2.05},{"odd":1.19,"even":2.08},{"odd":1.39,"even":2.1},{"odd":1.55,"even":2.06},{"odd":1.74,"even":2.09},{"odd":1.91,"even":2.04},{"odd":2.12,"even":2.1},
      {"odd":-0.33,"even":1.99},{"odd":-0.16,"even":1.96},{"odd":0.05,"even":2.0},{"odd":0.2,"even":1.94},{"odd":0.38,"even":1.98},{"odd":0.56,"even":2.0},{"odd":0.76,"even":1.97},{"odd":0.92,"even":1.99},{"odd":1.11,"even":1.96},{"odd":1.28,"even":2.0},{"odd":1.49,"even":1.94},{"odd":1.64,"even":1.98},{"odd":1.82,"even":2.0},{"odd":2.0,"even":1.97},{"odd":2.2,"even":1.99},
      {"odd":-0.3,"even":1.85},{"odd":-0.12,"even":1.9},{"odd":0.06,"even":1.84},{"odd":0.26,"even":1.88},{"odd":0.42,"even":1.9},{"odd":0.61,"even":1.87},{"odd":0.78,"even":1.89},{"odd":0.99,"even":1.86},{"odd":1.14,"even":1.9},{"odd":1.32,"even":1.84},{"odd":1.5,"even":1.88},{"odd":1.7,"even":1.9},{"odd":1.86,"even":1.87},{"odd":2.05,"even":1.89},{"odd":2.22,"even":1.86},
      {"odd":-0.36,"even":1.8},{"odd":-0.2,"even":1.74},{"odd":-0.01,"even":1.78},{"odd":0.16,"even":1.8},{"odd":0.37,"even":1.77},{"odd":0.52,"even":1.79},{"odd":0.7,"even":1.76},{"odd":0.88,"even":1.8},{"odd":1.08,"even":1.74},{"odd":1.24,"even":1.78},{"odd":1.43,"even":1.8},{"odd":1.6,"even":1.77},{"odd":1.81,"even":1.79},{"odd":1.96,"even":1.76},{"odd":2.14,"even":1.8},{"odd":2.32,"even":1.74},
      {"odd":-0.31,"even":1.65},{"odd":-0.1,"even":1.68},{"odd":0.05,"even":1.7},{"odd":0.23,"even":1.67},{"odd":0.41,"even":1.69},{"odd":0.61,"even":1.66},{"odd":0.77,"even":1.7},{"odd":0.96,"even":1.64},{"odd":1.13,"even":1.68},{"odd":1.34,"even":1.7},{"odd":1.49,"even":1.67},{"odd":1.67,"even":1.69},{"odd":1.85,"even":1.66},{"odd":2.05,"even":1.7},{"odd":2.21,"even":1.64},
      {"odd":-0.35,"even":1.59},{"odd":-0.17,"even":1.56},{"odd":0.03,"even":1.61},{"odd":0.19,"even":1.55},{"odd":0.38,"even":1.58},{"odd":0.55,"even":1.6},{"odd":0.76,"even":1.57},{"odd":0.91,"even":1.59},{"odd":1.09,"even":1.56},{"odd":1.27,"even":1.61},{"odd":1.47,"even":1.55},{"odd":1.63,"even":1.58},{"odd":1.82,"even":1.6},{"odd":1.99,"even":1.57},{"odd":2.2,"even":1.59},
      {"odd":-0.32,"even":1.46},{"odd":-0.13,"even":1.5},{"odd":0.04,"even":1.45},{"odd":0.25,"even":1.48},{"odd":0.4,"even":1.5},{"odd":0.58,"even":1.47},{"odd":0.76,"even":1.49},{"odd":0.96,"even":1.46},{"odd":1.12,"even":1.5},{"odd":1.31,"even":1.45},{"odd":1.48,"even":1.48},{"odd":1.69,"even":1.5},{"odd":1.84,"even":1.47},{"odd":2.02,"even":1.49},{"odd":2.2,"even":1.46},
      {"odd":-0.37,"even":1.4},{"odd":-0.22,"even":1.35},{"odd":-0.04,"even":1.38},{"odd":0.14,"even":1.4},{"odd":0.34,"even":1.37},{"odd":0.5,"even":1.39},{"odd":0.69,"even":1.36},{"odd":0.86,"even":1.4},{"odd":1.07,"even":1.35},{"odd":1.22,"even":1.38},{"odd":1.4,"even":1.4},{"odd":1.58,"even":1.37},{"odd":1.78,"even":1.39},{"odd":1.94,"even":1.36},{"odd":2.13,"even":1.4},{"odd":2.3,"even":1.35},
      {"odd":-0.3,"even":1.25},{"odd":-0.1,"even":1.28},{"odd":0.06,"even":1.3},{"odd":0.25,"even":1.26},{"odd":0.42,"even":1.29},{"odd":0.63,"even":1.24},{"odd":0.78,"even":1.3},{"odd":0.96,"even":1.25},{"odd":1.14,"even":1.28},{"odd":1.34,"even":1.3},{"odd":1.5,"even":1.26},{"odd":1.69,"even":1.29},{"odd":1.86,"even":1.24},{"odd":2.07,"even":1.3},{"odd":2.22,"even":1.25},
      {"odd":-0.34,"even":1.19},{"odd":-0.17,"even":1.16},{"odd":0.04,"even":1.2},{"odd":0.19,"even":1.14},{"odd":0.37,"even":1.18},{"odd":0.55,"even":1.2},{"odd":0.75,"even":1.17},{"odd":0.91,"even":1.19},{"odd":1.1,"even":1.16},{"odd":1.27,"even":1.2},{"odd":1.48,"even":1.14},{"odd":1.63,"even":1.18},{"odd":1.81,"even":1.2},{"odd":1.99,"even":1.17},{"odd":2.19,"even":1.19},
      {"odd":-0.36,"even":1.05},{"odd":-0.18,"even":1.1},{"odd":0.0,"even":1.04},{"odd":0.2,"even":1.08},{"odd":0.36,"even":1.1},{"odd":0.55,"even":1.07},{"odd":0.72,"even":1.09},{"odd":0.93,"even":1.06},{"odd":1.08,"even":1.1},{"odd":1.26,"even":1.04},{"odd":1.44,"even":1.08},{"odd":1.64,"even":1.1},{"odd":1.8,"even":1.07},{"odd":1.99,"even":1.09},{"odd":2.16,"even":1.06},
      {"odd":-0.33,"even":1.0},{"odd":-0.17,"even":0.94},{"odd":0.02,"even":0.98},{"odd":0.19,"even":1.0},{"odd":0.4,"even":0.97},{"odd":0.55,"even":0.99},{"odd":0.73,"even":0.96},{"odd":0.91,"even":1.0},{"odd":1.11,"even":0.94},{"odd":1.27,"even":0.98},{"odd":1.46,"even":1.0},{"odd":1.63,"even":0.97},{"odd":1.84,"even":0.99},{"odd":1.99,"even":0.96},{"odd":2.17,"even":1.0},
      {"odd":-0.3,"even":0.85},{"odd":-0.09,"even":0.88},{"odd":0.06,"even":0.9},{"odd":0.24,"even":0.87},{"odd":0.42,"even":0.89},{"odd":0.62,"even":0.86},{"odd":0.78,"even":0.9},{"odd":0.97,"even":0.84},{"odd":1.14,"even":0.88},{"odd":1.35,"even":0.9},{"odd":1.5,"even":0.87},{"odd":1.68,"even":0.89},{"odd":1.86,"even":0.86},{"odd":2.06,"even":0.9},{"odd":2.22,"even":0.84},
      {"odd":-0.28,"even":0.79},{"odd":-0.1,"even":0.76},{"odd":0.1,"even":0.81},{"odd":0.26,"even":0.75},{"odd":0.45,"even":0.78},{"odd":0.62,"even":0.8},{"odd":0.83,"even":0.77},{"odd":0.98,"even":0.79},{"odd":1.16,"even":0.76},{"odd":1.34,"even":0.81},{"odd":1.54,"even":0.75},{"odd":1.7,"even":0.78},{"odd":1.89,"even":0.8},{"odd":2.06,"even":0.77},{"odd":2.27,"even":0.79},
      {"odd":-0.36,"even":0.66},{"odd":-0.17,"even":0.7},{"odd":0.0,"even":0.65},{"odd":0.21,"even":0.68},{"odd":0.36,"even":0.7},{"odd":0.54,"even":0.67},{"odd":0.72,"even":0.69},{"odd":0.92,"even":0.66},{"odd":1.08,"even":0.7},{"odd":1.27,"even":0.65},{"odd":1.44,"even":0.68},{"odd":1.65,"even":0.7},{"odd":1.8,"even":0.67},{"odd":1.98,"even":0.69},{"odd":2.16,"even":0.66},
      {"odd":-0.31,"even":0.6},{"odd":-0.16,"even":0.55},{"odd":0.02,"even":0.58},{"odd":0.2,"even":0.6},{"odd":0.4,"even":0.57},{"odd":0.56,"even":0.59},{"odd":0.75,"even":0.56},{"odd":0.92,"even":0.6},{"odd":1.13,"even":0.55},{"odd":1.28,"even":0.58},{"odd":1.46,"even":0.6},{"odd":1.64,"even":0.57},{"odd":1.84,"even":0.59},{"odd":2.0,"even":0.56},{"odd":2.19,"even":0.6},
      {"odd":-0.34,"even":0.45},{"odd":-0.14,"even":0.48},{"odd":0.02,"even":0.5},{"odd":0.21,"even":0.46},{"odd":0.38,"even":0.49},{"odd":0.59,"even":0.44},{"odd":0.74,"even":0.5},{"odd":0.92,"even":0.45},{"odd":1.1,"even":0.48},{"odd":1.3,"even":0.5},{"odd":1.46,"even":0.46},{"odd":1.65,"even":0.49},{"odd":1.82,"even":0.44},{"odd":2.03,"even":0.5},{"odd":2.18,"even":0.45},
      {"odd":-0.29,"even":0.39},{"odd":-0.12,"even":0.36},{"odd":0.09,"even":0.4},{"odd":0.24,"even":0.34},{"odd":0.42,"even":0.38},{"odd":0.6,"even":0.4},{"odd":0.8,"even":0.37},{"odd":0.96,"even":0.39},{"odd":1.15,"even":0.36},{"odd":1.32,"even":0.4},{"odd":1.53,"even":0.34},{"odd":1.68,"even":0.38},{"odd":1.86,"even":0.4},{"odd":2.04,"even":0.37},{"odd":2.24,"even":0.39},
      {"odd":-0.33,"even":0.25},{"odd":-0.15,"even":0.3},{"odd":0.03,"even":0.24},{"odd":0.23,"even":0.28},{"odd":0.39,"even":0.3},{"odd":0.58,"even":0.27},{"odd":0.75,"even":0.29},{"odd":0.96,"even":0.26},{"odd":1.11,"even":0.3},{"odd":1.29,"even":0.24},{"odd":1.47,"even":0.28},{"odd":1.67,"even":0.3},{"odd":1.83,"even":0.27},{"odd":2.02,"even":0.29},{"odd":2.19,"even":0.26},
      {"odd":-0.25,"even":0.2},{"odd":-0.09,"even":0.14},{"odd":0.1,"even":0.18},{"odd":0.27,"even":0.2},{"odd":0.48,"even":0.17},{"odd":0.63,"even":0.19},{"odd":0.81,"even":0.16},{"odd":0.99,"even":0.2},{"odd":1.19,"even":0.14},{"odd":1.35,"even":0.18},{"odd":1.54,"even":0.2},{"odd":1.71,"even":0.17},{"odd":1.92,"even":0.19},{"odd":2.07,"even":0.16},
      {"odd":-0.2,"even":0.05},{"odd":0.01,"even":0.08},{"odd":0.16,"even":0.1},{"odd":0.34,"even":0.07},{"odd":0.52,"even":0.09},{"odd":0.72,"even":0.06},{"odd":0.88,"even":0.1},{"odd":1.07,"even":0.04},{"odd":1.24,"even":0.08},{"odd":1.45,"even":0.1},{"odd":1.6,"even":0.07},{"odd":1.78,"even":0.09},{"odd":1.96,"even":0.06},
      {"odd":-0.1,"even":-0.01},{"odd":0.08,"even":-0.04},{"odd":0.28,"even":0.01},{"odd":0.44,"even":-0.05},{"odd":0.63,"even":-0.02},{"odd":0.8,"even":0.0},{"odd":1.01,"even":-0.03},{"odd":1.16,"even":-0.01},{"odd":1.34,"even":-0.04},{"odd":1.52,"even":0.01},{"odd":1.72,"even":-0.05},{"odd":1.88,"even":-0.02},
      {"odd":-0.05,"even":-0.12},{"odd":0.14,"even":-0.15},{"odd":0.31,"even":-0.1},{"odd":0.52,"even":-0.14},{"odd":0.67,"even":-0.11},{"odd":0.85,"even":-0.13},{"odd":1.03,"even":-0.16},{"odd":1.23,"even":-0.12},{"odd":1.39,"even":-0.15},{"odd":1.58,"even":-0.1},{"odd":1.75,"even":-0.14},
      {"odd":0.05,"even":-0.22},{"odd":0.2,"even":-0.25},{"odd":0.38,"even":-0.2},{"odd":0.56,"even":-0.24},{"odd":0.76,"even":-0.21},{"odd":0.92,"even":-0.23},{"odd":1.11,"even":-0.26},{"odd":1.28,"even":-0.22},{"odd":1.49,"even":-0.25},{"odd":1.64,"even":-0.2},
      {"odd":0.15,"even":-0.33},{"odd":0.35,"even":-0.3},{"odd":0.51,"even":-0.35},{"odd":0.7,"even":-0.31},{"odd":0.87,"even":-0.34},{"odd":1.08,"even":-0.32},{"odd":1.23,"even":-0.3},{"odd":1.41,"even":-0.36},{"odd":1.59,"even":-0.33},
      {"odd":0.1,"even":2.02},{"odd":0.31,"even":2.04},{"odd":0.48,"even":2.0},{"odd":0.68,"even":2.03},{"odd":0.87,"even":2.01},{"odd":1.09,"even":2.05},{"odd":1.27,"even":2.02},{"odd":1.48,"even":2.0},{"odd":1.65,"even":2.04},
      {"odd":-0.05,"even":1.93},{"odd":0.12,"even":1.9},{"odd":0.32,"even":1.94},{"odd":0.51,"even":1.92},{"odd":0.73,"even":1.95},{"odd":0.91,"even":1.91},{"odd":1.12,"even":1.93},{"odd":1.29,"even":1.9},{"odd":1.49,"even":1.94},{"odd":1.68,"even":1.92},{"odd":1.9,"even":1.95},
      {"odd":-0.15,"even":1.82},{"odd":0.05,"even":1.84},{"odd":0.24,"even":1.8},{"odd":0.46,"even":1.83},{"odd":0.64,"even":1.85},{"odd":0.85,"even":1.81},{"odd":1.02,"even":1.82},{"odd":1.22,"even":1.84},{"odd":1.41,"even":1.8},{"odd":1.63,"even":1.83},{"odd":1.81,"even":1.85},{"odd":2.02,"even":1.81},
      {"odd":-0.2,"even":1.73},{"odd":0.02,"even":1.7},{"odd":0.2,"even":1.74},{"odd":0.41,"even":1.72},{"odd":0.58,"even":1.75},{"odd":0.78,"even":1.71},{"odd":0.97,"even":1.73},{"odd":1.19,"even":1.7},{"odd":1.37,"even":1.74},{"odd":1.58,"even":1.72},{"odd":1.75,"even":1.75},{"odd":1.95,"even":1.71},
      {"odd":-0.22,"even":1.62},{"odd":-0.04,"even":1.64},{"odd":0.18,"even":1.6},{"odd":0.35,"even":1.63},{"odd":0.55,"even":1.65},{"odd":0.74,"even":1.61},{"odd":0.96,"even":1.62},{"odd":1.14,"even":1.64},{"odd":1.35,"even":1.6},{"odd":1.52,"even":1.63},{"odd":1.72,"even":1.65},{"odd":1.91,"even":1.61},{"odd":2.1,"even":1.62},
      {"odd":-0.18,"even":1.53},{"odd":0.03,"even":1.5},{"odd":0.2,"even":1.54},{"odd":0.4,"even":1.52},{"odd":0.59,"even":1.55},{"odd":0.81,"even":1.51},{"odd":0.99,"even":1.53},{"odd":1.2,"even":1.5},{"odd":1.37,"even":1.54},{"odd":1.57,"even":1.52},{"odd":1.76,"even":1.55},{"odd":1.98,"even":1.51},
      {"odd":-0.25,"even":1.42},{"odd":-0.06,"even":1.44},{"odd":0.16,"even":1.4},{"odd":0.34,"even":1.43},{"odd":0.55,"even":1.45},{"odd":0.72,"even":1.41},{"odd":0.92,"even":1.42},{"odd":1.11,"even":1.44},{"odd":1.33,"even":1.4},{"odd":1.51,"even":1.43},{"odd":1.72,"even":1.45},{"odd":1.89,"even":1.41},{"odd":2.09,"even":1.42},
      {"odd":-0.19,"even":1.33},{"odd":0.02,"even":1.3},{"odd":0.19,"even":1.34},{"odd":0.39,"even":1.32},{"odd":0.58,"even":1.35},{"odd":0.8,"even":1.31},{"odd":0.98,"even":1.33},{"odd":1.19,"even":1.3},{"odd":1.36,"even":1.34},{"odd":1.56,"even":1.32},{"odd":1.75,"even":1.35},{"odd":1.97,"even":1.31},
      {"odd":-0.23,"even":1.22},{"odd":-0.05,"even":1.24},{"odd":0.17,"even":1.2},{"odd":0.36,"even":1.23},{"odd":0.53,"even":1.25},{"odd":0.73,"even":1.21},{"odd":0.92,"even":1.22},{"odd":1.14,"even":1.24},{"odd":1.32,"even":1.2},{"odd":1.53,"even":1.23},{"odd":1.7,"even":1.25},{"odd":1.9,"even":1.21},{"odd":2.09,"even":1.22},
      {"odd":-0.17,"even":1.13},{"odd":0.04,"even":1.1},{"odd":0.21,"even":1.14},{"odd":0.41,"even":1.12},{"odd":0.6,"even":1.15},{"odd":0.82,"even":1.11},{"odd":1.0,"even":1.13},{"odd":1.21,"even":1.1},{"odd":1.38,"even":1.14},{"odd":1.58,"even":1.12},{"odd":1.77,"even":1.15},{"odd":1.99,"even":1.11},
      {"odd":-0.24,"even":1.02},{"odd":-0.03,"even":1.04},{"odd":0.14,"even":1.0},{"odd":0.34,"even":1.03},{"odd":0.53,"even":1.05},{"odd":0.75,"even":1.01},{"odd":0.93,"even":1.02},{"odd":1.14,"even":1.04},{"odd":1.31,"even":1.0},{"odd":1.51,"even":1.03},{"odd":1.7,"even":1.05},{"odd":1.92,"even":1.01},{"odd":2.1,"even":1.02},
      {"odd":-0.2,"even":0.93},{"odd":0.0,"even":0.9},{"odd":0.22,"even":0.94},{"odd":0.4,"even":0.92},{"odd":0.61,"even":0.95},{"odd":0.78,"even":0.91},{"odd":0.98,"even":0.93},{"odd":1.17,"even":0.9},{"odd":1.39,"even":0.94},{"odd":1.57,"even":0.92},{"odd":1.78,"even":0.95},{"odd":1.95,"even":0.91},
      {"odd":-0.22,"even":0.82},{"odd":-0.01,"even":0.84},{"odd":0.16,"even":0.8},{"odd":0.36,"even":0.83},{"odd":0.55,"even":0.85},{"odd":0.77,"even":0.81},{"odd":0.95,"even":0.82},{"odd":1.16,"even":0.84},{"odd":1.33,"even":0.8},{"odd":1.53,"even":0.83},{"odd":1.72,"even":0.85},{"odd":1.94,"even":0.81},{"odd":2.12,"even":0.82},
      {"odd":-0.17,"even":0.73},{"odd":0.05,"even":0.7},{"odd":0.23,"even":0.74},{"odd":0.44,"even":0.72},{"odd":0.61,"even":0.75},{"odd":0.81,"even":0.71},{"odd":1.0,"even":0.73},{"odd":1.22,"even":0.7},{"odd":1.4,"even":0.74},{"odd":1.61,"even":0.72},{"odd":1.78,"even":0.75},{"odd":1.98,"even":0.71},
      {"odd":-0.24,"even":0.62},{"odd":-0.04,"even":0.64},{"odd":0.18,"even":0.6},{"odd":0.36,"even":0.63},{"odd":0.57,"even":0.65},{"odd":0.74,"even":0.61},{"odd":0.94,"even":0.62},{"odd":1.13,"even":0.64},{"odd":1.35,"even":0.6},{"odd":1.53,"even":0.63},{"odd":1.74,"even":0.65},{"odd":1.91,"even":0.61},{"odd":2.11,"even":0.62},
      {"odd":-0.19,"even":0.53},{"odd":0.03,"even":0.5},{"odd":0.2,"even":0.54},{"odd":0.4,"even":0.52},{"odd":0.59,"even":0.55},{"odd":0.81,"even":0.51},{"odd":0.99,"even":0.53},{"odd":1.2,"even":0.5},{"odd":1.37,"even":0.54},{"odd":1.57,"even":0.52},{"odd":1.76,"even":0.55},{"odd":1.98,"even":0.51},
      {"odd":-0.21,"even":0.42},{"odd":-0.03,"even":0.44},{"odd":0.19,"even":0.4},{"odd":0.37,"even":0.43},{"odd":0.58,"even":0.45},{"odd":0.75,"even":0.41},{"odd":0.95,"even":0.42},{"odd":1.14,"even":0.44},{"odd":1.36,"even":0.4},{"odd":1.54,"even":0.43},{"odd":1.75,"even":0.45},{"odd":1.92,"even":0.41},{"odd":2.1,"even":0.42},
      {"odd":-0.15,"even":0.33},{"odd":0.06,"even":0.3},{"odd":0.23,"even":0.34},{"odd":0.43,"even":0.32},{"odd":0.62,"even":0.35},{"odd":0.84,"even":0.31},{"odd":1.02,"even":0.33},{"odd":1.23,"even":0.3},{"odd":1.4,"even":0.34},{"odd":1.6,"even":0.32},{"odd":1.79,"even":0.35},{"odd":2.0,"even":0.31},
      {"odd":-0.1,"even":0.22},{"odd":0.08,"even":0.24},{"odd":0.3,"even":0.2},{"odd":0.48,"even":0.23},{"odd":0.69,"even":0.25},{"odd":0.86,"even":0.21},{"odd":1.06,"even":0.22},{"odd":1.25,"even":0.24},{"odd":1.47,"even":0.2},{"odd":1.65,"even":0.23},{"odd":1.86,"even":0.25},
      {"odd":0.0,"even":0.13},{"odd":0.21,"even":0.1},{"odd":0.38,"even":0.14},{"odd":0.58,"even":0.12},{"odd":0.77,"even":0.15},{"odd":0.99,"even":0.11},{"odd":1.17,"even":0.13},{"odd":1.38,"even":0.1},{"odd":1.55,"even":0.14},{"odd":1.75,"even":0.12},
      {"odd":0.12,"even":0.02},{"odd":0.33,"even":0.04},{"odd":0.5,"even":0.0},{"odd":0.71,"even":0.03},{"odd":0.89,"even":0.05},{"odd":1.1,"even":0.01},{"odd":1.28,"even":0.02},{"odd":1.47,"even":0.04},{"odd":1.66,"even":0.0},
      {"odd":-2.26,"even":-4.26},{"odd":-2.01,"even":1.34},{"odd":-2.11,"even":0.75},{"odd":-2.09,"even":0.63},{"odd":-1.65,"even":1.67},{"odd":-1.5,"even":-0.1},{"odd":-1.42,"even":0.72},{"odd":-1.32,"even":0.58},{"odd":-1.27,"even":1.25},{"odd":-1.14,"even":1.11},{"odd":-1.12,"even":0.34},{"odd":-1.01,"even":0.25},{"odd":-0.96,"even":-0.04},{"odd":-0.99,"even":2.55},{"odd":-0.87,"even":2.37},{"odd":-0.98,"even":2.11},{"odd":-0.79,"even":2.7},{"odd":-0.83,"even":-0.28},{"odd":-0.69,"even":2.17},{"odd":-0.72,"even":2.05},{"odd":-0.63,"even":2.55},{"odd":-0.52,"even":2.49},{"odd":-0.57,"even":1.87},{"odd":-0.41,"even":2.32},{"odd":-0.34,"even":2.55},{"odd":-0.15,"even":2.7},{"odd":-0.94,"even":1.52},{"odd":0.21,"even":3.73},{"odd":0.19,"even":2.91},{"odd":0.33,"even":3.02},{"odd":0.44,"even":2.91},
      {"odd":-0.9,"even":1.22},{"odd":-0.84,"even":1.34},{"odd":-0.77,"even":-0.04},{"odd":-0.69,"even":0.25},{"odd":-0.63,"even":-0.25},{"odd":-0.41,"even":-0.43},{"odd":-0.45,"even":-0.55},{"odd":-0.32,"even":-0.63},{"odd":-0.22,"even":-0.72},
      {"odd":1.17,"even":4.5},{"odd":1.05,"even":4.14},{"odd":1.03,"even":3.85},{"odd":0.92,"even":3.64},{"odd":1.17,"even":3.35},{"odd":1.58,"even":3.29},{"odd":1.58,"even":3.05},{"odd":2.16,"even":3.44},{"odd":2.23,"even":3.2},{"odd":2.01,"even":2.85},{"odd":2.3,"even":2.82},{"odd":2.37,"even":2.64},{"odd":2.67,"even":2.2},{"odd":2.6,"even":2.02},{"odd":2.64,"even":1.78},{"odd":3.4,"even":2.08},{"odd":3.64,"even":1.93},{"odd":3.84,"even":1.64},{"odd":4.05,"even":1.81},{"odd":3.26,"even":1.43},{"odd":3.39,"even":1.52},{"odd":3.06,"even":1.52},{"odd":2.99,"even":1.37},{"odd":3.29,"even":0.93},{"odd":3.35,"even":0.69},{"odd":3.76,"even":0.81},{"odd":3.02,"even":0.96},{"odd":3.03,"even":0.75},{"odd":2.95,"even":0.37},{"odd":3.28,"even":0.16},{"odd":3.4,"even":0.01},{"odd":2.81,"even":0.07},{"odd":2.74,"even":0.25},{"odd":2.62,"even":-0.37},{"odd":2.6,"even":-0.55},{"odd":2.48,"even":-0.84},
      {"odd":0.58,"even":-3.0},{"odd":0.56,"even":-1.84},{"odd":0.63,"even":-1.67},{"odd":1.17,"even":-1.7},{"odd":0.87,"even":-1.4},{"odd":0.91,"even":-1.55},{"odd":1.29,"even":-1.34},{"odd":1.36,"even":-1.34},{"odd":1.71,"even":-1.22},{"odd":1.75,"even":-1.4},{"odd":1.86,"even":-1.17},{"odd":1.96,"even":-0.84},{"odd":2.09,"even":-0.75},{"odd":2.49,"even":-0.87},{"odd":1.02,"even":-1.02},{"odd":0.88,"even":-1.02},{"odd":0.58,"even":-1.13},{"odd":0.85,"even":-1.43},
      {"odd":0.35,"even":-2.32},{"odd":-0.34,"even":-1.05},{"odd":-0.22,"even":-1.14},{"odd":-0.12,"even":-1.34},{"odd":0.0,"even":-1.31},{"odd":0.18,"even":-1.05},{"odd":0.36,"even":-1.14},{"odd":-0.29,"even":-0.72},{"odd":-0.11,"even":-0.78},{"odd":0.0,"even":-0.84},
      {"odd":-0.7,"even":-0.19},{"odd":-0.45,"even":-0.25},{"odd":-0.45,"even":-0.52},{"odd":-0.18,"even":-0.34},{"odd":-0.08,"even":-0.52},{"odd":0.56,"even":-1.14},
      {"odd":-0.96,"even":1.52},{"odd":-0.9,"even":1.61},{"odd":-0.59,"even":1.58},{"odd":-1.02,"even":0.28},{"odd":-1.14,"even":1.14},{"odd":-1.05,"even":0.78},{"odd":-0.91,"even":0.49},{"odd":-0.83,"even":0.19},{"odd":-0.7,"even":0.46},
      {"odd":2.6,"even":-0.4},{"odd":2.02,"even":-0.63},{"odd":2.09,"even":-0.78},
      {"odd":-1.01,"even":2.52},{"odd":-0.65,"even":2.55},{"odd":-0.85,"even":2.37},{"odd":-0.96,"even":2.23},{"odd":-0.7,"even":2.11},{"odd":-0.56,"even":2.2},{"odd":-0.56,"even":1.9},{"odd":-0.33,"even":2.23},{"odd":-0.15,"even":2.67},{"odd":-0.9,"even":1.67},{"odd":0.21,"even":2.99},{"odd":0.14,"even":2.85},
      {"odd":0.88,"even":3.29},{"odd":0.67,"even":3.11},{"odd":0.79,"even":3.17},{"odd":1.34,"even":3.14},{"odd":1.4,"even":2.99},{"odd":1.65,"even":2.96},{"odd":2.6,"even":2.17}
    ]
  },
  "layer": [
    {
      "data": {"name": "points"},
      "mark": {
        "type": "circle",
        "size": 56,
        "color": "#1f77b4",
        "opacity": 0.5,
        "stroke": "#ffffff",
        "strokeWidth": 0.5
      },
      "encoding": {
        "x": {
          "field": "odd",
          "type": "quantitative",
          "title": "odd_game_elasticity",
          "scale": {"domain": [-2.562, 4.35], "nice": false, "zero": false},
          "axis": {"values": [-2, -1, 0, 1, 2, 3, 4], "labelPadding": 11, "titlePadding": 5}
        },
        "y": {
          "field": "even",
          "type": "quantitative",
          "title": "even_game_elasticity",
          "scale": {"domain": [-4.71, 4.91], "nice": false, "zero": false},
          "axis": {"values": [-4, -2, 0, 2, 4], "labelPadding": 10, "titlePadding": 11}
        }
      }
    },
    {
      "data": {"name": "fit"},
      "mark": {"type": "line", "color": "#1f77b4", "strokeWidth": 2},
      "encoding": {
        "x": {"field": "odd", "type": "quantitative"},
        "y": {"field": "even", "type": "quantitative"}
      }
    }
  ]
}
